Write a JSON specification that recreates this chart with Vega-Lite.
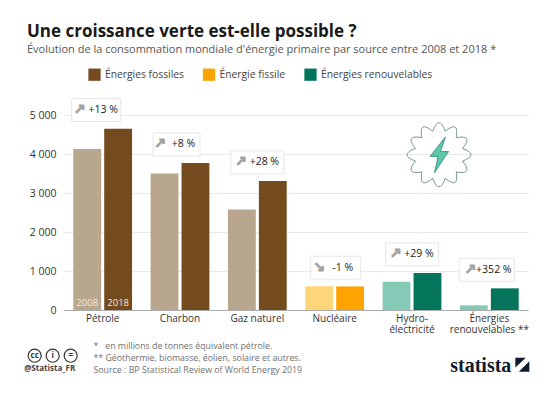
{"$schema":"https://vega.github.io/schema/vega-lite/v6.json","width":464,"height":195,"autosize":"none","padding":{"left":64,"top":115,"right":29,"bottom":84},"background":"white","resolve":{"axis":{"y":"independent"}},"title":{"text":"Une croissance verte est-elle possible ?","subtitle":"Évolution de la consommation mondiale d'énergie primaire par source entre 2008 et 2018 *","anchor":"start","frame":"group","dx":-37,"offset":12,"font":"Open Sans","fontSize":17,"fontWeight":"bold","color":"#1a1a1a","subtitleFont":"Open Sans","subtitleFontSize":11,"subtitleColor":"#555555","subtitlePadding":3},"config":{"view":{"stroke":null},"font":"Open Sans"},"datasets":{"bars":[{"source":"Pétrole","year":"2008","value":4130,"serie":"Énergies fossiles 2008"},{"source":"Pétrole","year":"2018","value":4650,"serie":"Énergies fossiles"},{"source":"Charbon","year":"2008","value":3500,"serie":"Énergies fossiles 2008"},{"source":"Charbon","year":"2018","value":3770,"serie":"Énergies fossiles"},{"source":"Gaz naturel","year":"2008","value":2580,"serie":"Énergies fossiles 2008"},{"source":"Gaz naturel","year":"2018","value":3310,"serie":"Énergies fossiles"},{"source":"Nucléaire","year":"2008","value":610,"serie":"Énergie fissile 2008"},{"source":"Nucléaire","year":"2018","value":605,"serie":"Énergie fissile"},{"source":"Hydro-électricité","year":"2008","value":725,"serie":"Énergies renouvelables 2008"},{"source":"Hydro-électricité","year":"2018","value":950,"serie":"Énergies renouvelables"},{"source":"Énergies renouvelables **","year":"2008","value":120,"serie":"Énergies renouvelables 2008"},{"source":"Énergies renouvelables **","year":"2018","value":555,"serie":"Énergies renouvelables"}],"badges":[{"source":"Pétrole","top":4650,"label":"+13 %","arrow":"↗"},{"source":"Charbon","top":3770,"label":"+8 %","arrow":"↗"},{"source":"Gaz naturel","top":3310,"label":"+28 %","arrow":"↗"},{"source":"Nucléaire","top":610,"label":"-1 %","arrow":"↘"},{"source":"Hydro-électricité","top":950,"label":"+29 %","arrow":"↗"},{"source":"Énergies renouvelables **","top":555,"label":"+352 %","arrow":"↗"}]},"encoding":{"x":{"field":"source","type":"nominal","sort":["Pétrole","Charbon","Gaz naturel","Nucléaire","Hydro-électricité","Énergies renouvelables **"],"scale":{"paddingInner":0.24,"paddingOuter":0.12},"axis":{"title":["*\u00a0\u00a0 en millions de tonnes équivalent pétrole.","** Géothermie, biomasse, éolien, solaire et autres.","Source : BP Statistical Review of World Energy 2019"],"titleX":29,"titleY":31,"titleAlign":"left","titleAnchor":"start","titleFont":"Open Sans","titleFontSize":8.8,"titleFontWeight":"normal","titleColor":"#707070","titleLineHeight":12,"labelAngle":0,"labelFont":"Open Sans","labelFontSize":10,"labelColor":"#333333","labelPadding":3,"labelLimit":0,"labelLineHeight":11,"ticks":false,"domainColor":"#aaaaaa","labelExpr":"datum.label === 'Hydro-électricité' ? ['Hydro-','électricité'] : datum.label === 'Énergies renouvelables **' ? ['Énergies','renouvelables **'] : datum.label"}}},"layer":[{"data":{"name":"bars"},"mark":{"type":"bar"},"encoding":{"xOffset":{"field":"year","type":"nominal","scale":{"paddingInner":0.1}},"y":{"field":"value","type":"quantitative","title":null,"scale":{"domain":[0,5000]},"axis":{"values":[0,1000,2000,3000,4000,5000],"labelExpr":"replace(datum.label, ',', ' ')","labelOverlap":false,"domain":false,"ticks":false,"labelPadding":8,"labelFont":"Open Sans","labelFontSize":10.5,"labelColor":"#333333","gridColor":"#e9e9e9","grid":true}},"color":{"field":"serie","type":"nominal","scale":{"domain":["Énergies fossiles","Énergie fissile","Énergies renouvelables","Énergies fossiles 2008","Énergie fissile 2008","Énergies renouvelables 2008"],"range":["#744a1f","#ffa300","#04745a","#b8a68f","#ffd57a","#85c9b7"]},"legend":{"values":["Énergies fossiles","Énergie fissile","Énergies renouvelables"],"title":null,"orient":"none","legendX":24,"legendY":-47,"direction":"horizontal","columns":3,"symbolType":"square","symbolSize":150,"symbolStrokeWidth":0,"labelFont":"Open Sans","labelFontSize":10.3,"labelColor":"#444444","columnPadding":18.5,"labelOffset":4}}}},{"data":{"name":"bars"},"transform":[{"filter":"datum.source === 'Pétrole'"}],"mark":{"type":"text","color":"#f3e9dc","fontSize":9.5,"font":"Open Sans"},"encoding":{"xOffset":{"field":"year","type":"nominal","scale":{"paddingInner":0.1}},"y":{"datum":190,"axis":null},"text":{"field":"year"}}},{"data":{"name":"badges"},"mark":{"type":"rect","width":{"expr":"datum.source === 'Pétrole' ? 49 : datum.source === 'Charbon' ? 47 : datum.source === 'Nucléaire' ? 50 : datum.source === 'Énergies renouvelables **' ? 55 : 53"},"height":23,"fill":"white","stroke":"#e6e6e6","strokeWidth":1,"yOffset":-18.5,"xOffset":{"expr":"datum.source === 'Pétrole' ? -6.5 : datum.source === 'Charbon' ? -3.5 : datum.source === 'Énergies renouvelables **' ? -2.5 : datum.source === 'Nucléaire' ? 1 : 0"}},"encoding":{"y":{"field":"top","type":"quantitative","axis":null}}},{"data":{"name":"badges"},"mark":{"type":"text","font":"DejaVu Sans","fontWeight":"bold","fontSize":14,"color":"#a3a3a3","stroke":"#a3a3a3","strokeWidth":1,"yOffset":-18.5,"xOffset":{"expr":"-16.5 + (datum.source === 'Pétrole' ? -6.5 : datum.source === 'Charbon' ? -3.5 : datum.source === 'Énergies renouvelables **' ? -2.5 : datum.source === 'Nucléaire' ? 1 : 0)"}},"encoding":{"y":{"field":"top","type":"quantitative","axis":null},"text":{"field":"arrow"}}},{"data":{"name":"badges"},"mark":{"type":"text","font":"Open Sans","fontSize":10.5,"color":"#222222","yOffset":-18.5,"xOffset":{"expr":"7 + (datum.source === 'Pétrole' ? -6.5 : datum.source === 'Charbon' ? -3.5 : datum.source === 'Énergies renouvelables **' ? -2.5 : datum.source === 'Nucléaire' ? 1 : 0)"}},"encoding":{"y":{"field":"top","type":"quantitative","axis":null},"text":{"field":"label"}}},{"mark":{"type":"point","filled":false,"stroke":"#3d6f63","strokeWidth":0.7,"opacity":1,"size":4096,"xOffset":27,"shape":"M.734 -.197 Q1.266 0 .734 .197 Q1.096 .633 .537 .537 Q.633 1.096 .197 .734 Q0 1.266 -.197 .734 Q-.633 1.096 -.537 .537 Q-1.096 .633 -.734 .197 Q-1.266 0 -.734 -.197 Q-1.096 -.633 -.537 -.537 Q-.633 -1.096 -.197 -.734 Q0 -1.266 .197 -.734 Q.633 -1.096 .537 -.537 Q1.096 -.633 .734 -.197 Z"},"data":{"values":[{}]},"encoding":{"x":{"datum":"Hydro-électricité"},"y":{"datum":3980,"axis":null}}},{"mark":{"type":"point","filled":true,"fill":"#5cc7ab","stroke":"#1f7f68","strokeWidth":0.7,"opacity":1,"size":4096,"xOffset":27,"shape":"M.2 -.56 L-.28 .05 L-.03 .05 L-.14 .56 L.3 -.1 L.05 -.1 Z"},"data":{"values":[{}]},"encoding":{"x":{"datum":"Hydro-électricité"},"y":{"datum":3980,"axis":null}}},{"data":{"values":[{"offset":-68,"glyph":"cc"},{"offset":-50,"glyph":"i"},{"offset":-32,"glyph":"="}]},"layer":[{"mark":{"type":"point","filled":false,"stroke":"#333333","strokeWidth":1.2,"size":170,"opacity":1,"xOffset":{"expr":"datum.offset"}},"encoding":{"x":{"datum":"Pétrole"},"y":{"datum":-1172,"axis":null}}},{"mark":{"type":"text","color":"#333333","fontSize":8,"fontWeight":"bold","font":"Open Sans","xOffset":{"expr":"datum.offset"}},"encoding":{"x":{"datum":"Pétrole"},"y":{"datum":-1172,"axis":null},"text":{"field":"glyph"}}}]},{"data":{"values":[{"t":"@Statista_FR"}]},"mark":{"type":"text","color":"#444444","fontSize":8,"fontWeight":"bold","font":"Open Sans","xOffset":-53},"encoding":{"x":{"datum":"Pétrole"},"y":{"datum":-1510,"axis":null},"text":{"field":"t"}}},{"data":{"values":[{"t":"statista"}]},"mark":{"type":"text","color":"#0f1c2e","fontSize":20,"fontWeight":"bold","font":"Liberation Sans Narrow","align":"right","xOffset":22},"encoding":{"x":{"datum":"Énergies renouvelables **"},"y":{"datum":-1430,"axis":null},"text":{"field":"t"}}},{"mark":{"type":"point","filled":true,"fill":"#0f1c2e","size":196,"opacity":1,"xOffset":33,"shape":"M-1 -1 H.5 L-1 .4 Z M1 -.5 V1 H-.5 Z"},"data":{"values":[{}]},"encoding":{"x":{"datum":"Énergies renouvelables **"},"y":{"datum":-1403,"axis":null}}}]}
